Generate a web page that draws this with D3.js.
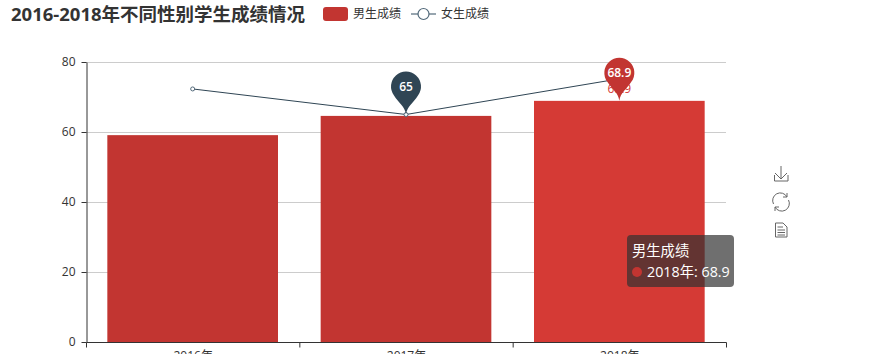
<!DOCTYPE html>
<html>
<head>
<meta charset="utf-8">
<script src="https://cdn.jsdelivr.net/npm/d3@7"></script>
<style>
  html, body { margin: 0; padding: 0; background: #fff; overflow: hidden; }
  body { width: 883px; height: 354px; position: relative; font-family: "Open Sans", "Noto Sans CJK SC", sans-serif; }
  svg { position: absolute; left: 0; top: 0; }
  text { font-family: "Open Sans", "Noto Sans CJK SC", sans-serif; }
  .tooltip {
    position: absolute; left: 627px; top: 235px; width: 107px; height: 52px;
    background: rgba(50,50,50,0.7); border-radius: 4px; color: #fff;
    font-size: 14.3px; line-height: 21px; box-sizing: border-box; padding: 5px; white-space: nowrap;
  }
  .tooltip .dot {
    display: inline-block; width: 10px; height: 10px; border-radius: 5px;
    background: #c23531; margin-right: 5px;
  }
</style>
</head>
<body>
<script>
// ---------- Data ----------
const years = ["2016年", "2017年", "2018年"];
const maleScores = [59.1, 64.6, 68.9];
const femaleScores = [72.3, 65, 75.2];
const yTicks = [0, 20, 40, 60, 80];

const RED = "#c23531", RED_HOVER = "#d53a35", NAVY = "#2f4554", TXT = "#333";

const W = 883, H = 354, M = { t: 62, r: 157, b: 12, l: 86 };
const w = W - M.l - M.r, h = H - M.t - M.b;

const svg = d3.select("body").append("svg").attr("width", W).attr("height", H);

// Title
svg.append("text").attr("x", 11).attr("y", 21)
  .attr("font-size", 18.5).attr("font-weight", "bold").attr("fill", TXT)
  .text("2016-2018年不同性别学生成绩情况");

// Legend
svg.append("rect").attr("x", 323).attr("y", 7).attr("width", 25).attr("height", 14)
  .attr("rx", 3).attr("fill", RED);
svg.append("text").attr("x", 353).attr("y", 18).attr("font-size", 12).attr("fill", TXT).text("男生成绩");
svg.append("line").attr("x1", 411).attr("x2", 436).attr("y1", 14).attr("y2", 14)
  .attr("stroke", "#52697a").attr("stroke-width", 1.2);
svg.append("circle").attr("cx", 423.5).attr("cy", 14).attr("r", 5.5)
  .attr("fill", "#fff").attr("stroke", "#52697a").attr("stroke-width", 1.2);
svg.append("text").attr("x", 441).attr("y", 18).attr("font-size", 12).attr("fill", TXT).text("女生成绩");

const g = svg.append("g").attr("transform", `translate(${M.l},${M.t})`);

// Scales
const x = d3.scaleBand().domain(years).range([0, w]).paddingInner(0.2).paddingOuter(0.1);
const xc = d => x(d) + x.bandwidth() / 2;
const y = d3.scaleLinear().domain([0, 80]).range([h, 0]);

// Grid
g.append("g").selectAll("line").data(yTicks.slice(1)).join("line")
  .attr("x1", 0).attr("x2", w)
  .attr("y1", d => y(d) + 0.5).attr("y2", d => y(d) + 0.5)
  .attr("stroke", "#ccc");

// Bars (the last one is in its hover state)
g.selectAll("rect.bar").data(years).join("rect")
  .attr("class", "bar")
  .attr("x", d => x(d))
  .attr("y", (d, i) => y(maleScores[i]))
  .attr("width", x.bandwidth())
  .attr("height", (d, i) => h - y(maleScores[i]))
  .attr("fill", (d, i) => i === 2 ? RED_HOVER : RED);

// Value label of hovered bar
g.append("text")
  .attr("x", xc(years[2])).attr("y", y(maleScores[2]) - 8)
  .attr("text-anchor", "middle").attr("font-size", 12).attr("fill", RED_HOVER)
  .text(maleScores[2]);

// Axes
const xAxis = g.append("g").attr("transform", `translate(0,${h + 0.5})`)
  .call(d3.axisBottom(d3.scalePoint().domain(years).range([xc(years[0]), xc(years[2])])).tickSize(0));
xAxis.selectAll("text").attr("dy", 0).attr("y", 17).attr("font-size", 12).attr("fill", TXT);
xAxis.select(".domain").attr("stroke", TXT).attr("d", `M0.5,0H${w + 0.5}`);
xAxis.selectAll("line.band").data(d3.range(years.length + 1)).join("line")
  .attr("class", "band")
  .attr("x1", i => i * w / years.length + 0.5).attr("x2", i => i * w / years.length + 0.5)
  .attr("y1", 0).attr("y2", 5).attr("stroke", TXT);

const yAxis = g.append("g").attr("transform", "translate(0.5,0)")
  .call(d3.axisLeft(y).tickValues(yTicks).tickSize(5).tickSizeOuter(0).tickPadding(6));
yAxis.selectAll("text").attr("font-size", 12).attr("fill", TXT);
yAxis.selectAll("line").attr("stroke", TXT);
yAxis.select(".domain").attr("stroke", TXT);

// Female line
const line = d3.line().x((d, i) => xc(years[i])).y(d => y(d));
g.append("path").attr("d", line(femaleScores))
  .attr("fill", "none").attr("stroke", NAVY).attr("stroke-width", 1);
g.selectAll("circle.pt").data(femaleScores).join("circle")
  .attr("class", "pt")
  .attr("cx", (d, i) => xc(years[i])).attr("cy", d => y(d)).attr("r", 2)
  .attr("fill", "#fff").attr("stroke", "#52697a");

// Markpoint pins: tip sits on the data point, thin needle at the bottom
function pinPath(r, len) {
  const sx = r * 0.8, sy = r * 0.6;
  return `M${-sx},${-len + sy}A${r},${r} 0 1 1 ${sx},${-len + sy}`
    + `C${sx * 0.6},${-len * 0.4} 1.2,${-len * 0.3} 0,0`
    + `C-1.2,${-len * 0.3} ${-sx * 0.6},${-len * 0.4} ${-sx},${-len + sy}Z`;
}
const pins = [
  { cat: years[1], val: femaleScores[1], color: NAVY },
  { cat: years[2], val: maleScores[2], color: RED }
];
const pin = g.selectAll("g.pin").data(pins).join("g")
  .attr("class", "pin")
  .attr("transform", d => `translate(${xc(d.cat)},${y(d.val)})`);
pin.append("path").attr("d", pinPath(15, 28)).attr("fill", d => d.color);
pin.append("text").attr("y", -28).attr("dy", "0.35em")
  .attr("text-anchor", "middle").attr("font-size", 12).attr("font-weight", 600).attr("fill", "#fff")
  .text(d => d.val);

// Toolbox icons
const tb = svg.append("g").attr("fill", "none").attr("stroke", "#666").attr("stroke-width", 1);
tb.append("path").attr("d", "M781,166V179M775,173L781,179L787,173M774.500,175V181H788V175");
tb.append("path").attr("d", "M773.500,204A7.500,7.500 0 0 1 787,197M788.500,200A7.500,7.500 0 0 1 775,207M787,193V197H783M775,211V207H779");
tb.append("path").attr("d", "M775.500,223H783L787,227V237H775.500ZM777.500,227H783M777.500,230H785M777.500,232.500H785M777.500,235H785");

// Tooltip
const tip = d3.select("body").append("div").attr("class", "tooltip");
tip.append("div").text("男生成绩");
const row = tip.append("div");
row.append("span").attr("class", "dot");
row.append("span").text(`${years[2]}: ${maleScores[2]}`);
</script>
</body>
</html>
